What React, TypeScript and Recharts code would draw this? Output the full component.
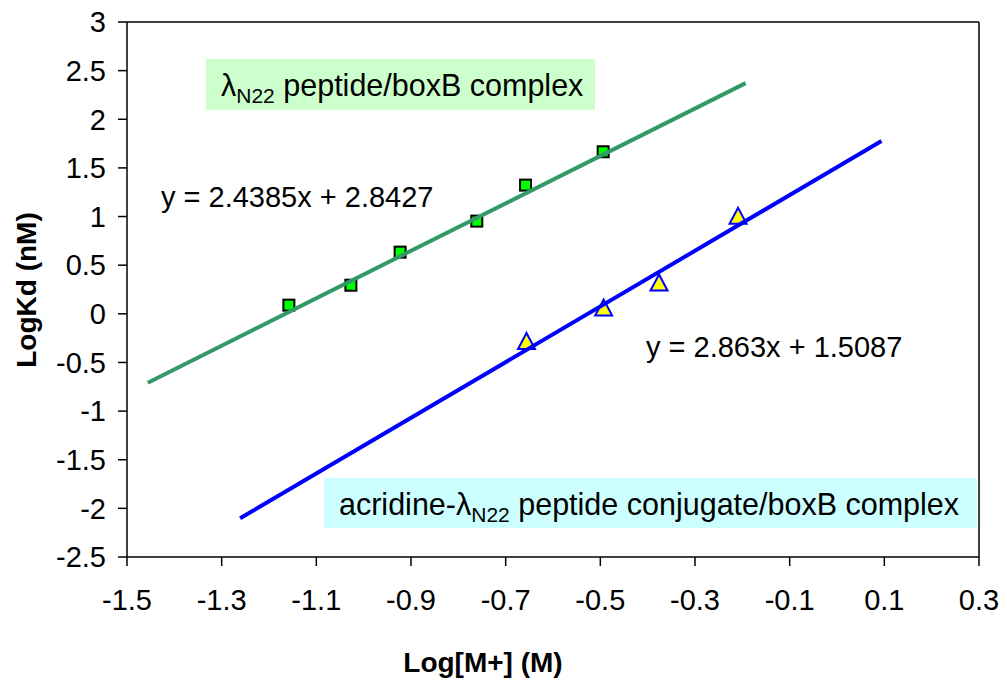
import { ScatterChart, Scatter, XAxis, YAxis, ReferenceLine } from 'recharts';

// green squares: lambda N22 peptide / boxB
const peptideX = [-1.158, -1.027, -0.923, -0.761, -0.658, -0.494];
const peptideY = [0.089, 0.294, 0.634, 0.953, 1.323, 1.666];

// yellow triangles: acridine conjugate / boxB
const conjugateX = [-0.656, -0.493, -0.376, -0.209];
const conjugateY = [-0.289, 0.054, 0.312, 0.997];

// trendline end points as drawn
const peptideFitX = [-1.456, -0.193];
const peptideFitY = [-0.708, 2.372];
const conjugateFitX = [-1.261, 0.094];
const conjugateFitY = [-2.102, 1.776];

const xTicks = [-1.5, -1.3, -1.1, -0.9, -0.7, -0.5, -0.3, -0.1, 0.1, 0.3];
const yTicks = [-2.5, -2, -1.5, -1, -0.5, 0, 0.5, 1, 1.5, 2, 2.5, 3];

const zip = (xs: number[], ys: number[]) => xs.map((x, i) => ({ x, y: ys[i] }));

const peptide = zip(peptideX, peptideY);
const conjugate = zip(conjugateX, conjugateY);
const peptideFit = zip(peptideFitX, peptideFitY);
const conjugateFit = zip(conjugateFitX, conjugateFitY);

const FONT = '"Liberation Sans", Arial, sans-serif';

const Square = (props: any) => {
    const { cx, cy } = props;
    const s = 11;
    return <rect x={cx - s / 2} y={cy - s / 2} width={s} height={s} fill="#00FF00" stroke="#000" strokeWidth={2} />;
};

const Triangle = (props: any) => {
    const { cx, cy } = props;
    const w = 17;
    const h = 16;
    return (
        <polygon
            points={`${cx},${cy - h / 2 - 1} ${cx - w / 2},${cy + h / 2 - 1} ${cx + w / 2},${cy + h / 2 - 1}`}
            fill="#FFFF00"
            stroke="#0000FF"
            strokeWidth={2}
        />
    );
};

const fmt = (v: number) => String(v);

export default function App() {
    const tickStyle = { fontFamily: FONT, fontSize: 29, fill: '#000' };
    return (
        <div style={{ position: 'absolute', left: 0, top: 0, width: 1007, height: 683, background: '#fff' }}>
            <ScatterChart width={1007} height={683} margin={{ top: 22, right: 28, bottom: 46, left: 0 }}>
                <XAxis
                    type="number"
                    dataKey="x"
                    domain={[-1.5, 0.3]}
                    ticks={xTicks}
                    tickFormatter={fmt}
                    allowDataOverflow
                    height={80}
                    tickSize={9}
                    tickMargin={23}
                    tick={tickStyle}
                    axisLine={{ stroke: '#000', strokeWidth: 1.5 }}
                    tickLine={{ stroke: '#000', strokeWidth: 1.5 }}
                />
                <YAxis
                    type="number"
                    dataKey="y"
                    domain={[-2.5, 3]}
                    ticks={yTicks}
                    tickFormatter={fmt}
                    allowDataOverflow
                    width={127}
                    tickSize={9}
                    tickMargin={12}
                    tick={tickStyle}
                    axisLine={{ stroke: '#000', strokeWidth: 1.5 }}
                    tickLine={{ stroke: '#000', strokeWidth: 1.5 }}
                />
                <ReferenceLine y={3} stroke="#000" strokeWidth={1.5} />
                <ReferenceLine x={0.3} stroke="#000" strokeWidth={1.5} />
                <Scatter data={peptide} shape={<Square />} isAnimationActive={false} />
                <Scatter data={conjugate} shape={<Triangle />} isAnimationActive={false} />
                <Scatter
                    data={peptideFit}
                    line={{ stroke: '#339966', strokeWidth: 4 }}
                    shape={() => null}
                    isAnimationActive={false}
                />
                <Scatter
                    data={conjugateFit}
                    line={{ stroke: '#0000FF', strokeWidth: 4 }}
                    shape={() => null}
                    isAnimationActive={false}
                />
            </ScatterChart>
            <svg
                width={1007}
                height={683}
                style={{ position: 'absolute', left: 0, top: 0, pointerEvents: 'none' }}
                fontFamily={FONT}
            >
                <rect x={206} y={59} width={389} height={51} fill="#CCFFCC" />
                <text x={221} y={96} fontSize={30.5} fill="#000">
                    λ<tspan fontSize={21} dy={7}>N22</tspan>
                    <tspan dy={-7}> peptide/boxB complex</tspan>
                </text>
                <text x={161} y={207} fontSize={29} fill="#000">y = 2.4385x + 2.8427</text>
                <text x={646} y={357} fontSize={29} fill="#000">y = 2.863x + 1.5087</text>
                <rect x={324} y={478} width={653} height={50} fill="#CCFFFF" />
                <text x={339} y={515} fontSize={30.5} fill="#000">
                    acridine-λ<tspan fontSize={21} dy={7}>N22</tspan>
                    <tspan dy={-7}> peptide conjugate/boxB complex</tspan>
                </text>
                <text x={483} y={672} fontSize={28} fontWeight="bold" textAnchor="middle" fill="#000">
                    Log[M+] (M)
                </text>
                <text
                    x={36}
                    y={290}
                    fontSize={28}
                    fontWeight="bold"
                    textAnchor="middle"
                    fill="#000"
                    transform="rotate(-90 36 290)"
                >
                    LogKd (nM)
                </text>
            </svg>
        </div>
    );
}
